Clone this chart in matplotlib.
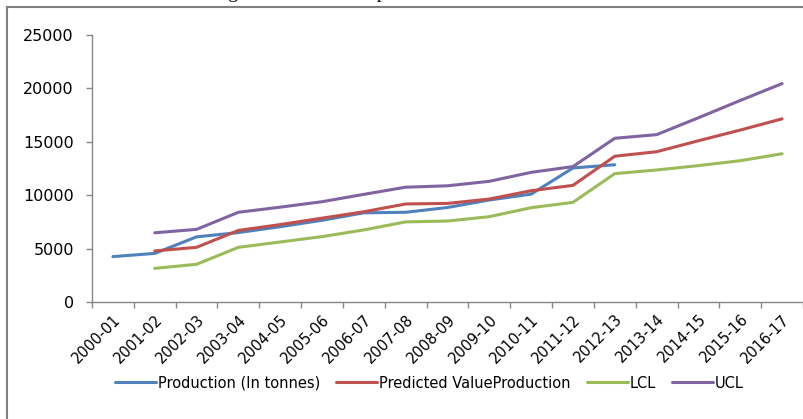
import matplotlib.pyplot as plt
from matplotlib.lines import Line2D
import numpy as np

years = ["2000-01", "2001-02", "2002-03", "2003-04", "2004-05", "2005-06",
         "2006-07", "2007-08", "2008-09", "2009-10", "2010-11", "2011-12",
         "2012-13", "2013-14", "2014-15", "2015-16", "2016-17"]

production = [4250, 4550, 6100, 6500, 7050, 7650, 8350, 8400, 8850, 9550,
              10100, 12550, 12850, None, None, None, None]
predicted = [None, 4780, 5120, 6700, 7250, 7850, 8450, 9180, 9230, 9640,
             10420, 10920, 13650, 14070, 15100, 16100, 17150]
lcl = [None, 3150, 3530, 5120, 5620, 6120, 6750, 7500, 7580, 7990,
       8830, 9330, 12020, 12360, 12770, 13230, 13880]
ucl = [None, 6480, 6800, 8400, 8880, 9390, 10080, 10750, 10880, 11300,
       12140, 12680, 15330, 15670, 17250, 18870, 20450]

series = [
    ("Production (In tonnes)", production, "#4F81BD"),
    ("Predicted ValueProduction", predicted, "#C0504D"),
    ("LCL", lcl, "#9BBB59"),
    ("UCL", ucl, "#8064A2"),
]

plt.rcParams["font.family"] = "DejaVu Sans"

fig = plt.figure(figsize=(8.04, 4.19), dpi=100)
ax = fig.add_axes([92 / 804, 1 - 302 / 419, 711 / 804, 267 / 419])

x = np.arange(len(years))
for name, vals, color in series:
    y = np.array([np.nan if v is None else v for v in vals], dtype=float)
    ax.plot(x, y, color=color, lw=2.2, label=name, solid_capstyle="round")

ax.set_xlim(-0.5, len(years) - 0.5)
ax.set_ylim(0, 25000)
ax.set_yticks(range(0, 25001, 5000))
ax.set_xticks(x)
ax.set_xticklabels(years, rotation=45, ha="right", va="top",
                   rotation_mode="anchor", fontsize=10.5)
ax.set_xticks(np.arange(-0.5, len(years)), minor=True)
ax.tick_params(axis="x", which="major", length=0, pad=7)
ax.tick_params(axis="x", which="minor", length=4, color="#868686", width=1)
ax.tick_params(axis="y", length=4, color="#868686", width=1, labelsize=11.5, pad=9)

for side in ("top", "right"):
    ax.spines[side].set_visible(False)
for side in ("left", "bottom"):
    ax.spines[side].set_color("#868686")
    ax.spines[side].set_linewidth(1)

fig.legend(loc="center", bbox_to_anchor=(0.534, 1 - 383 / 419), ncol=4,
           frameon=False, fontsize=10.5, handlelength=2.8, handletextpad=0.15,
           columnspacing=1.1)

# outer chart frame
fig.add_artist(Line2D([7 / 804, 7 / 804], [0, 1 - 7 / 419],
                      transform=fig.transFigure, color="#808080", lw=1.5))
fig.add_artist(Line2D([7 / 804, 1], [1 - 7 / 419, 1 - 7 / 419],
                      transform=fig.transFigure, color="#808080", lw=1.5))

# caption running off the top edge
fig.text(410 / 804, 1 + 2 / 419, "Figure 3: Actual and predicted value of Production",
         ha="center", va="baseline", fontsize=14, family="Liberation Serif")

fig.savefig("out.png", dpi=100, facecolor="white")
